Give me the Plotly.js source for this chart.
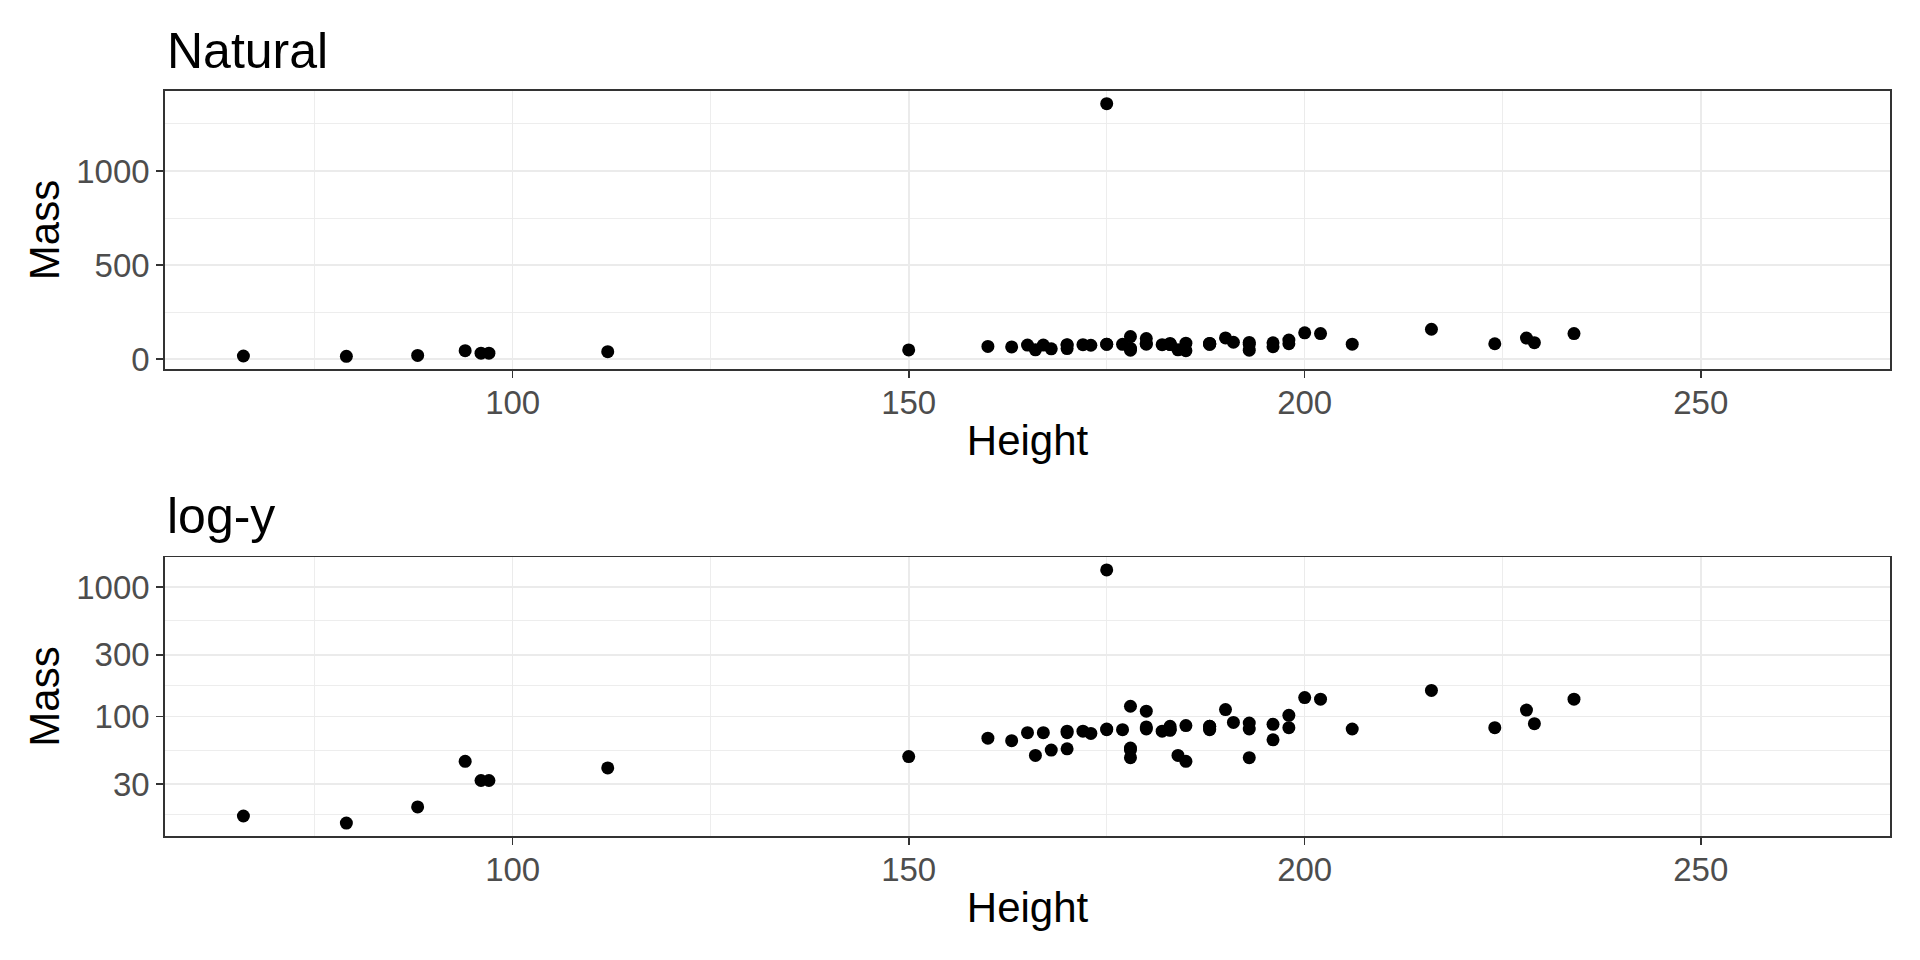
<!DOCTYPE html>
<html>
<head>
<meta charset="utf-8">
<script src="https://cdn.plot.ly/plotly-3.0.1.min.js"></script>
<style>
  html, body { margin: 0; padding: 0; background: #ffffff; }
  #chart { width: 1920px; height: 960px; }
</style>
</head>
<body>
<div id="chart"></div>
<script>
// Star Wars characters with both height and mass known
const height = [172, 167, 96, 202, 150, 178, 165, 97, 183, 182, 188, 228, 180, 173, 175, 170, 180, 66, 170, 183,
                200, 190, 177, 175, 180, 88, 160, 193, 191, 185, 196, 224, 112, 175, 178, 79, 94, 163, 188, 198,
                196, 184, 188, 185, 183, 170, 166, 193, 183, 168, 198, 229, 193, 178, 216, 234, 188, 178, 206];
const mass   = [77, 75, 32, 136, 49, 120, 75, 32, 84, 77, 84, 112, 80, 74, 1358, 77, 110, 17, 75, 78.2,
                140, 113, 79, 79, 83, 20, 68, 89, 90, 45, 66, 82, 40, 80, 55, 15, 45, 65, 84, 82,
                87, 50, 80, 85, 80, 56.2, 50, 80, 79, 55, 102, 88, 48, 57, 159, 136, 79, 48, 80];

// x limits are trained on every height in the data set (incl. characters whose mass is missing)
const heightLimits = [66, 264];

const panelTitles = ["Natural", "log-y"];
const xLabel = "Height";
const yLabel = "Mass";

const xTicks = [100, 150, 200, 250];
const xMinor = [75, 125, 175, 225];
const yTicksNatural = [0, 500, 1000];
const yMinorNatural = [250, 750, 1250];
const yTicksLog = [30, 100, 300, 1000];

// minor log breaks: geometric midpoints between (extended) major breaks
const logMajorExt = [10].concat(yTicksLog);
const yMinorLog = [];
for (let i = 0; i < logMajorExt.length - 1; i++) {
  yMinorLog.push(Math.sqrt(logMajorExt[i] * logMajorExt[i + 1]));
}

function expand(lo, hi, f) { const d = (hi - lo) * f; return [lo - d, hi + d]; }

const xRange = expand(heightLimits[0], heightLimits[1], 0.05);
const yRangeNat = expand(Math.min(...mass), Math.max(...mass), 0.05);
const yRangeLog = expand(Math.log10(Math.min(...mass)), Math.log10(Math.max(...mass)), 0.05);

const FONT = "Liberation Sans, Arial, Helvetica, sans-serif";
const W = 1920, H = 960;
const panelL = 165, panelR = 1890;
const p1Top = 91, p1Bot = 369;
const p2Top = 557.3, p2Bot = 835.7;

const gridMajor = "#EBEBEB";
const marker = { color: "#000000", size: 13, line: { width: 0 } };

const traces = [
  { type: "scatter", mode: "markers", x: height, y: mass, xaxis: "x", yaxis: "y",
    marker: marker, hoverinfo: "x+y", showlegend: false },
  { type: "scatter", mode: "markers", x: height, y: mass, xaxis: "x2", yaxis: "y2",
    marker: marker, hoverinfo: "x+y", showlegend: false }
];

function xAxis(anchor, domainY) {
  return {
    anchor: anchor,
    domain: [panelL / W, panelR / W],
    range: xRange,
    tickmode: "array",
    tickvals: xTicks,
    ticktext: xTicks.map(String),
    ticks: "outside", ticklen: 7, tickwidth: 1.6, tickcolor: "#333333",
    ticklabelstandoff: -3,
    tickfont: { family: FONT, size: 33, color: "#4D4D4D" },
    showgrid: true, gridcolor: gridMajor, gridwidth: 1.6,
    minor: { tickmode: "array", tickvals: xMinor, showgrid: true, gridcolor: gridMajor, gridwidth: 0.9, ticks: "" },
    zeroline: false,
    showline: true, mirror: true, linecolor: "#333333", linewidth: 1.8,
    title: { text: xLabel, font: { family: FONT, size: 42, color: "#000000" }, standoff: 5 },
    automargin: false, fixedrange: true
  };
}

function yAxis(anchor, domain, extra) {
  return Object.assign({
    anchor: anchor,
    domain: domain,
    ticks: "outside", ticklen: 7, tickwidth: 1.6, tickcolor: "#333333",
    tickfont: { family: FONT, size: 33, color: "#4D4D4D" },
    showgrid: true, gridcolor: gridMajor, gridwidth: 1.6,
    zeroline: false,
    showline: true, mirror: true, linecolor: "#333333", linewidth: 1.8,
    title: { text: yLabel, font: { family: FONT, size: 42, color: "#000000" }, standoff: 3 },
    automargin: false, fixedrange: true
  }, extra);
}

const layout = {
  width: W, height: H,
  margin: { l: 0, r: 0, t: 0, b: 0, pad: 0 },
  paper_bgcolor: "#ffffff",
  plot_bgcolor: "#ffffff",
  font: { family: FONT },
  showlegend: false,
  xaxis: xAxis("y"),
  yaxis: yAxis("x", [1 - p1Bot / H, 1 - p1Top / H], {
    range: yRangeNat,
    tickmode: "array", tickvals: yTicksNatural, ticktext: yTicksNatural.map(String),
    minor: { tickmode: "array", tickvals: yMinorNatural, showgrid: true, gridcolor: gridMajor, gridwidth: 0.9, ticks: "" }
  }),
  xaxis2: xAxis("y2"),
  yaxis2: yAxis("x2", [1 - p2Bot / H, 1 - p2Top / H], {
    type: "log",
    range: yRangeLog,
    tickmode: "array", tickvals: yTicksLog, ticktext: yTicksLog.map(String),
    minor: { tickmode: "array", tickvals: yMinorLog, showgrid: true, gridcolor: gridMajor, gridwidth: 0.9, ticks: "" }
  }),
  annotations: [
    { text: panelTitles[0], xref: "paper", yref: "paper", x: panelL / W, y: 1 - 50.5 / H,
      xanchor: "left", yanchor: "middle", showarrow: false,
      font: { family: FONT, size: 50, color: "#000000" } },
    { text: panelTitles[1], xref: "paper", yref: "paper", x: panelL / W, y: 1 - 515.5 / H,
      xanchor: "left", yanchor: "middle", showarrow: false,
      font: { family: FONT, size: 50, color: "#000000" } }
  ]
};

Plotly.newPlot("chart", traces, layout, { displayModeBar: false, staticPlot: true });
</script>
</body>
</html>
